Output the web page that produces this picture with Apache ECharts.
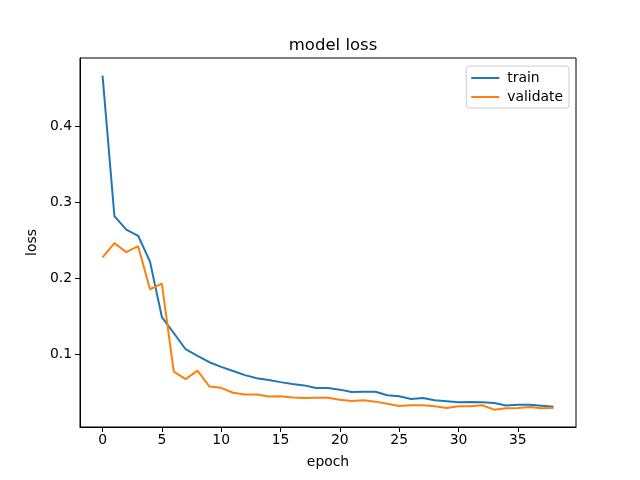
<!DOCTYPE html>
<html>
<head>
<meta charset="utf-8">
<script src="https://cdn.jsdelivr.net/npm/echarts@6/dist/echarts.min.js"></script>
<style>
  html, body { margin: 0; padding: 0; background: #fff; }
  #chart { width: 640px; height: 480px; }
</style>
</head>
<body>
<div id="chart"></div>
<script>
// loss per epoch
var trainLoss = [0.467, 0.282, 0.264, 0.256, 0.222, 0.149, 0.128, 0.1066, 0.098, 0.0895,
  0.0834, 0.078, 0.0725, 0.0685, 0.066, 0.0633, 0.0607, 0.059, 0.0555, 0.0555,
  0.0534, 0.0503, 0.0507, 0.0507, 0.046, 0.0446, 0.0411, 0.0424, 0.0393, 0.038,
  0.0367, 0.0371, 0.0367, 0.0358, 0.0326, 0.0336, 0.0336, 0.0323, 0.031];
var validateLoss = [0.2275, 0.2463, 0.2345, 0.2423, 0.1856, 0.193, 0.0772, 0.0672, 0.0785, 0.0576,
  0.0558, 0.0493, 0.047, 0.047, 0.0445, 0.0448, 0.043, 0.0424, 0.0428, 0.0428,
  0.0402, 0.0385, 0.0393, 0.0376, 0.0349, 0.0319, 0.0328, 0.0328, 0.0315, 0.0293,
  0.0315, 0.0315, 0.0328, 0.027, 0.0288, 0.0293, 0.0306, 0.0288, 0.0293];
var xTicks = [0, 5, 10, 15, 20, 25, 30, 35];
var yTicks = [0.1, 0.2, 0.3, 0.4];

var font = 'DejaVu Sans';

function pairs(arr) {
  var out = [];
  for (var i = 0; i < arr.length; i++) out.push([i, arr[i]]);
  return out;
}

var chart = echarts.init(document.getElementById('chart'));
chart.setOption({
  animation: false,
  backgroundColor: '#fff',
  title: {
    text: 'model loss',
    left: 328, top: 32,
    textAlign: 'center',
    textStyle: { fontFamily: font, fontSize: 16.5, fontWeight: 'normal', color: '#000' }
  },
  legend: {
    orient: 'vertical',
    right: 71, top: 66,
    data: ['train', 'validate'],
    icon: 'rect',
    itemWidth: 28, itemHeight: 2,
    itemGap: 5,
    padding: [5, 6, 4, 5],
    borderColor: '#ccc', borderWidth: 1, borderRadius: 3,
    backgroundColor: 'rgba(255,255,255,0.8)',
    textStyle: { fontFamily: font, fontSize: 13.9, color: '#000', padding: [0, 0, 0, 3] }
  },
  grid: {
    left: 80, right: 64, top: 58, bottom: 53,
    show: true, borderColor: '#000', borderWidth: 1
  },
  xAxis: {
    type: 'value',
    min: -1.9, max: 39.9,
    name: 'epoch', nameLocation: 'middle', nameGap: 28,
    nameTextStyle: { fontFamily: font, fontSize: 13.9, color: '#000' },
    axisLine: { show: true, onZero: false, lineStyle: { color: '#000', width: 1 } },
    axisTick: { show: true, length: 5, lineStyle: { color: '#000' }, customValues: xTicks },
    axisLabel: { fontFamily: font, fontSize: 13.9, color: '#000', margin: 6, customValues: xTicks },
    splitLine: { show: false }
  },
  yAxis: {
    type: 'value',
    min: 0.0042, max: 0.4901,
    name: 'loss', nameLocation: 'middle', nameGap: 37,
    nameTextStyle: { fontFamily: font, fontSize: 13.9, color: '#000' },
    axisLine: { show: true, onZero: false, lineStyle: { color: '#000', width: 1 } },
    axisTick: { show: true, length: 5, lineStyle: { color: '#000' }, customValues: yTicks },
    axisLabel: { fontFamily: font, fontSize: 13.9, color: '#000', margin: 8, customValues: yTicks,
      formatter: function (v) { return v.toFixed(1); } },
    splitLine: { show: false }
  },
  series: [
    { name: 'train', type: 'line', data: pairs(trainLoss), showSymbol: false,
      lineStyle: { color: '#1f77b4', width: 2 }, itemStyle: { color: '#1f77b4' } },
    { name: 'validate', type: 'line', data: pairs(validateLoss), showSymbol: false,
      lineStyle: { color: '#ff7f0e', width: 2 }, itemStyle: { color: '#ff7f0e' } }
  ]
});
</script>
</body>
</html>
